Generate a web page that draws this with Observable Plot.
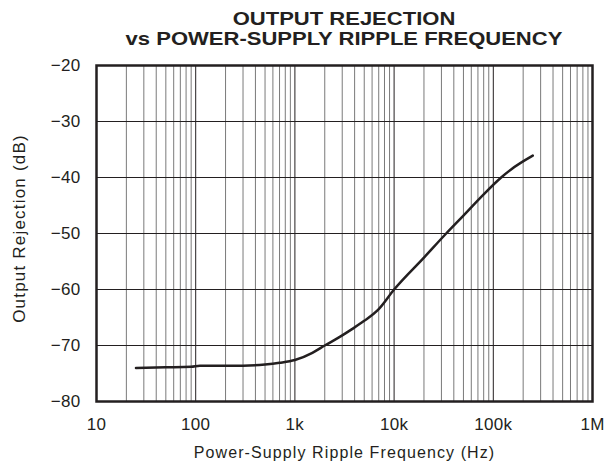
<!DOCTYPE html>
<html>
<head>
<meta charset="utf-8">
<script src="https://cdn.jsdelivr.net/npm/d3@7"></script>
<script src="https://cdn.jsdelivr.net/npm/@observablehq/plot@0.6"></script>
<style>
  html, body { margin: 0; padding: 0; background: #fff; }
  body { width: 614px; height: 468px; overflow: hidden; font-family: "Liberation Sans", Arial, sans-serif; color: #231f20; }
  #title { margin-left: 96px; width: 496px; padding-top: 9px; text-align: center; font-weight: bold; font-size: 18.5px; line-height: 20px; transform: scaleX(1.19); transform-origin: center; height: 40px; }
  svg { display: block; }
</style>
</head>
<body>
<div id="title">OUTPUT REJECTION<br>vs POWER-SUPPLY RIPPLE FREQUENCY</div>
<div id="chart"></div>
<script>
// Data
const freqHz = [25, 50, 90, 110, 300, 500, 700, 1000, 1500, 2000, 3000, 3600, 5000, 7000, 10000, 20000, 33500, 50000, 80000, 120000, 150000, 250000];
const rejectionDb = [-74.0, -73.9, -73.8, -73.6, -73.6, -73.4, -73.1, -72.6, -71.3, -70.0, -68.2, -67.3, -65.6, -63.5, -60.0, -54.3, -50.0, -46.8, -43.0, -40.0, -38.6, -36.1];

// Axis ticks and labels
const xTicks = [10, 100, 1000, 10000, 100000, 1000000];
const xTickLabels = ["10", "100", "1k", "10k", "100k", "1M"];
const minorMultipliers = [2, 3, 4, 5, 6, 7, 8, 9];
const yTicks = [-80, -70, -60, -50, -40, -30, -20];
const yTickLabels = ["\u221280", "\u221270", "\u221260", "\u221250", "\u221240", "\u221230", "\u221220"];

const xLabel = "Power-Supply Ripple Frequency (Hz)";
const yLabel = "Output Rejection (dB)";

const data = freqHz.map((f, i) => ({f, db: rejectionDb[i]}));
const minorTicks = xTicks.slice(0, -1).flatMap(d => minorMultipliers.map(m => d * m));

const ink = "#231f20";

const chart = Plot.plot({
  width: 614,
  height: 419,
  marginLeft: 96,
  marginRight: 22,
  marginTop: 16,
  marginBottom: 67,
  style: {fontFamily: "'Liberation Sans', Arial, sans-serif", color: ink, background: "#fff"},
  x: {type: "log", domain: [10, 1000000], axis: null},
  y: {domain: [-80, -20], axis: null},
  marks: [
    Plot.ruleX(minorTicks, {x: d => d, stroke: "#7a7a7a", strokeWidth: 1}),
    Plot.ruleX(xTicks, {x: d => d, stroke: ink, strokeWidth: 1}),
    Plot.ruleY(yTicks, {y: d => d, stroke: ink, strokeWidth: 1}),
    Plot.frame({stroke: ink, strokeWidth: 2.5}),
    Plot.line(data, {x: "f", y: "db", stroke: ink, strokeWidth: 2.5, curve: "monotone-x"}),
    Plot.text(xTicks, {x: d => d, frameAnchor: "bottom", lineAnchor: "middle", textAnchor: "middle", dy: 22.7, text: (d, i) => xTickLabels[i], fontSize: 17, fill: ink}),
    Plot.text(yTicks, {y: d => d, frameAnchor: "left", lineAnchor: "middle", dx: -16, textAnchor: "end", text: (d, i) => yTickLabels[i], fontSize: 17, fill: ink}),
    Plot.text([xLabel], {frameAnchor: "bottom", lineAnchor: "middle", textAnchor: "middle", dy: 51.8, text: d => d, fontSize: 16, fill: ink}),
    Plot.text([yLabel], {frameAnchor: "left", lineAnchor: "middle", textAnchor: "middle", dx: -77, dy: -5, rotate: -90, text: d => d, fontSize: 17, fill: ink})
  ]
});
// letter spacing to match the reference's wide lettering
const textGroups = chart.querySelectorAll('g[aria-label="text"]');
const spacings = ["0.3px", "0.3px", "1.1px", "1.2px"];
textGroups.forEach((g, i) => { g.style.letterSpacing = spacings[i] || "0px"; });
document.getElementById("chart").appendChild(chart);
</script>
</body>
</html>
